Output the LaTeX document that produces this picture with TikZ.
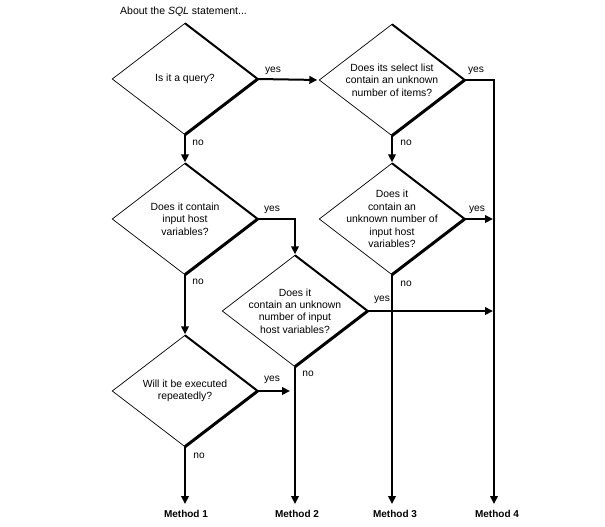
\documentclass[tikz,border=0pt]{standalone}
\usepackage{fontspec}
\setmainfont{Liberation Sans}
\usetikzlibrary{arrows.meta}
\begin{document}
\begin{tikzpicture}[x=1pt,y=-1pt,
  dec/.style={rectangle, draw=none, minimum width=145pt, minimum height=111pt, inner sep=0pt, align=center, font=\fontsize{10.4}{12.4}\selectfont},
  thinedge/.style={line width=0.7pt},
  topedge/.style={line width=2pt},
  shadowedge/.style={line width=3pt},
  flow/.style={line width=2pt, -{Triangle[length=8pt,width=7.5pt]}},
  lbl/.style={font=\fontsize{10.2}{11}\selectfont, inner sep=1pt},
  method/.style={font=\bfseries\fontsize{10}{11}\selectfont, inner sep=2pt, anchor=north}
]
\useasboundingbox (0,0) rectangle (605,527);

\node[anchor=west, inner sep=0pt, font=\fontsize{10.5}{11}\selectfont] (title) at (120,12) {About the \textit{SQL} statement...};

\node[dec] (d1) at (185,79) {Is it a query?};
\node[dec] (d2) at (392,80) {Does its select list\\contain an unknown\\number of items?};
\node[dec] (d3) at (185,219) {Does it contain\\input host\\variables?};
\node[dec] (d4) at (392,219) {Does it\\contain an\\unknown number of\\input host\\variables?};
\node[dec] (d5) at (295,311) {Does it\\contain an unknown\\number of input\\host variables?};
\node[dec] (d6) at (185,391) {Will it be executed\\repeatedly?};

\foreach \d in {d1,d2,d3,d4,d5,d6} {
  \draw[thinedge] (\d.north) -- (\d.west) -- (\d.south);
  \draw[topedge] (\d.north) -- (\d.east);
  \draw[shadowedge] (\d.east) -- (\d.south);
}

\node[method] (m1) at (186,508) {Method 1};
\node[method] (m2) at (297,508) {Method 2};
\node[method] (m3) at (395,508) {Method 3};
\node[method] (m4) at (497,508) {Method 4};

\coordinate (c4) at (494,80);
\coordinate (e4) at (493,219);
\coordinate (e5) at (493,311);
\coordinate (e6) at (290,391);
\coordinate (c3) at (295,219);

% connectors
\draw[flow, shorten >=2pt] (d1.east) -- (d2.west);
\draw[flow, shorten >=1pt] (d1.south) -- (d3.north);
\draw[flow, shorten >=1pt] (d2.south) -- (d4.north);
\draw[flow, shorten >=4pt] (d2.east) -- (c4) -- (c4 |- m4.north);
\draw[flow, shorten >=1pt] (d3.east) -- (c3) -- (d5.north);
\draw[flow, shorten >=1pt] (d3.south) -- (d6.north);
\draw[flow] (d4.east) -- (e4);
\draw[flow, shorten >=4pt] (d4.south) -- (d4.south |- m3.north);
\draw[flow] (d5.east) -- (e5);
\draw[flow, shorten >=4pt] (d5.south) -- (d5.south |- m2.north);
\draw[flow] (d6.east) -- (e6);
\draw[flow, shorten >=4pt] (d6.south) -- (d6.south |- m1.north);

% labels
\node[lbl] (y1) at (273,71) {yes};
\node[lbl] (n1) at (198,143) {no};
\node[lbl] (y2) at (476,71) {yes};
\node[lbl] (n2) at (406,143) {no};
\node[lbl] (y3) at (272,210) {yes};
\node[lbl] (n3) at (198,282) {no};
\node[lbl] (y4) at (477,210) {yes};
\node[lbl] (n4) at (406,284) {no};
\node[lbl] (y5) at (382,300) {yes};
\node[lbl] (n5) at (308,374) {no};
\node[lbl] (y6) at (272,380) {yes};
\node[lbl] (n6) at (199,456) {no};
\end{tikzpicture}
\end{document}
